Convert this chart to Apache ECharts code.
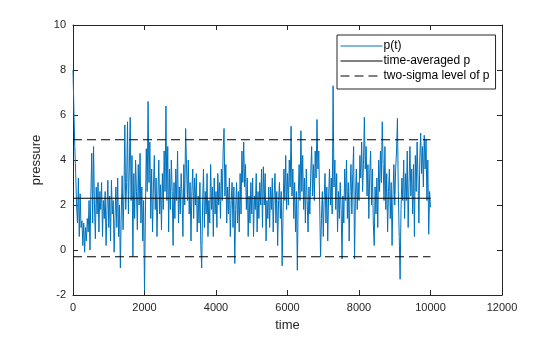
<!DOCTYPE html>
<html>
<head>
<meta charset="utf-8">
<script src="https://cdn.jsdelivr.net/npm/echarts@6/dist/echarts.min.js"></script>
<style>
html,body{margin:0;padding:0;background:#fff;}
#chart{width:560px;height:337px;}
</style>
</head>
<body>
<div id="chart"></div>
<script>
// sampling step of the pressure record
const timeStep = 25;
// p(t) samples, t = 0, 25, 50, ... 10000
const pressure = [
  8.0, 6.2, 4.6, 3.4, 2.0, 1.2, 3.2, 0.6, 2.5, 1.0, 1.3, 0.2, 1.2, -0.1, 1.0, 0.4, 1.4, 0.8, 2.2, 0.0,
  2.5, 4.3, 1.2, 4.6, 2.0, 0.5, 2.8, 1.6, 3.0, 0.8, 2.6, 1.8, 3.0, 0.6, 2.2, 1.4, 2.6, 0.2, 1.8, 3.1,
  1.0, 2.4, 0.4, 3.1, 1.6, 2.2, -0.1, 1.4, 2.8, 1.0, 3.2, 0.6, 2.0, -0.8, 1.6, 3.3, 0.9, 2.4, 5.56, 1.8,
  3.0, 5.7, 1.6, 3.6, 5.9, 2.2, 4.2, -0.3, 3.4, 1.4, 4.0, 2.6, 0.9, 3.8, 2.0, 4.3, 1.2, 2.8, 0.4, 2.2,
  -1.8, 1.6, 4.5, 2.6, 6.6, 3.0, 4.8, 1.4, 3.6, 0.8, 2.8, 4.2, 1.8, 3.2, 0.6, 2.4, 4.0, 1.6, 2.9, 0.9,
  3.4, 1.8, 4.4, 2.6, 6.4, 2.2, 4.6, 0.8, 3.6, 1.8, 4.0, 2.6, 0.2, 3.0, 1.4, 3.6, 2.2, 4.4, 1.2, 2.8,
  1.6, 3.4, 2.4, 0.6, 3.8, 2.0, 5.4, 3.8, 2.2, 4.0, 1.6, 3.0, 0.4, 2.6, 3.6, 1.4, 3.2, 2.0, 3.4, 0.8,
  2.4, 1.2, 3.0, 0.2, -0.8, 2.0, 3.6, 1.0, 2.6, 1.6, 3.4, 0.6, 2.2, 1.2, 3.8, 1.8, 2.8, 0.6, 3.2, 1.6,
  2.6, 1.0, 3.4, 2.0, 3.0, 1.4, 3.6, 2.2, 4.4, 5.4, 2.4, 3.8, 1.2, 2.8, 1.6, 3.2, 0.6, 2.2, 3.0, 1.0,
  2.8, -0.6, 1.8, 3.0, 1.2, 2.6, 0.8, 3.4, 1.6, 4.4, 3.0, 4.8, 2.8, 3.8, 1.8, 3.2, 0.6, 2.4, 1.2, 3.0,
  1.6, 3.2, 0.6, 2.4, 1.8, 3.4, 0.8, 2.6, 1.4, 3.0, 2.0, 3.6, 1.0, 3.7, 2.0, 3.4, 0.4, 2.2, 1.4, 2.8,
  1.0, 2.8, 1.8, 3.2, 0.8, 2.4, 3.4, 1.2, 2.6, 0.2, 2.2, 3.0, 1.4, 2.6, -0.7, 1.6, 3.6, 2.2, 4.2, 1.8,
  3.4, 2.0, 4.0, 2.8, 5.5, 2.4, 3.6, 1.4, 3.0, 0.8, 2.6, -0.9, 2.4, 3.8, 2.2, 5.3, 2.6, 4.2, 1.8, 3.2,
  1.2, 3.6, 2.2, 0.8, 2.8, 1.6, 3.4, 4.6, 2.4, 3.8, 2.2, 4.4, 3.2, 5.8, 3.6, 4.4, 2.0, -0.3, 1.4, 2.6,
  0.6, 2.2, 3.4, 1.2, 2.8, 0.4, 2.4, 3.6, 2.0, 3.2, 1.6, 7.3, 2.8, 4.0, 1.8, 3.4, 0.8, 2.6, 1.4, 3.0,
  1.8, -0.4, 2.4, 1.2, 3.6, 2.2, 4.0, 1.4, 3.0, 0.4, 2.6, 3.8, 1.6, 3.4, 4.6, -0.4, 2.4, 3.6, 1.8, 3.0,
  2.2, 4.2, 3.2, 4.8, 2.6, 3.8, 5.9, 3.6, 4.6, 2.4, 3.8, 1.4, 3.4, 4.4, 2.0, 3.6, 1.2, 0.2, 2.8, 1.6,
  3.2, 1.0, 4.0, 2.6, 4.4, 3.0, 5.7, 3.8, 2.2, 4.6, 1.8, 3.4, 0.8, 2.6, 3.6, 1.4, 3.0, 0.2, 2.4, 3.8,
  2.0, 3.6, 4.4, 5.85, 2.6, 0.6, -1.3, 1.8, 3.2, 2.2, 4.0, 1.4, 3.4, 2.2, 4.4, 1.0, 3.0, 4.6, 2.4, 3.6,
  1.6, 3.8, 0.6, 4.2, 2.6, 4.8, 3.2, 1.2, 4.0, 5.2, 3.4, 4.6, 2.8, 5.1, 3.6, 4.9, 2.2, 4.0, 0.7, 2.6,
  1.9
];
// time-averaged pressure and its two-sigma band
const meanLevel = 2.3;
const sigmaLevels = [4.9, -0.3];
const timeSpan = [0, 10000];
const seriesNames = ['p(t)', 'time-averaged p', 'two-sigma level of p'];
const xTicks = [0, 2000, 4000, 6000, 8000, 10000, 12000];
const yTicks = [-2, 0, 2, 4, 6, 8, 10];

const pData = pressure.map((v, i) => [i * timeStep, v]);
const meanData = timeSpan.map(t => [t, meanLevel]);
const sigmaUp = timeSpan.map(t => [t, sigmaLevels[0]]);
const sigmaDown = timeSpan.map(t => [t, sigmaLevels[1]]);

const ink = '#262626';
const font = 'Liberation Sans, Arial, sans-serif';
const plain = v => String(v);

const chart = echarts.init(document.getElementById('chart'), null, {renderer: 'canvas'});

const boxAxis = {
  axisLine: {show: true, onZero: false, lineStyle: {color: ink, width: 1}},
  axisTick: {show: true, inside: true, length: 5, lineStyle: {color: ink}},
  splitLine: {show: false}
};

chart.setOption({
  animation: false,
  backgroundColor: '#fff',
  grid: {left: 73, right: 58, top: 25, bottom: 39, containLabel: false},
  legend: {
    orient: 'vertical',
    left: 337, top: 35,
    data: seriesNames,
    itemWidth: 42, itemHeight: 12, itemGap: 3,
    padding: [5, 6, 7, 3],
    borderColor: ink, borderWidth: 1,
    backgroundColor: '#fff',
    itemStyle: {opacity: 0},
    lineStyle: {width: 1},
    textStyle: {color: '#000', fontSize: 12, fontFamily: font, padding: [0, 0, 0, -4]}
  },
  xAxis: [
    Object.assign({
      type: 'value', min: xTicks[0], max: xTicks[xTicks.length - 1], interval: 2000,
      name: 'time', nameLocation: 'middle', nameGap: 24,
      nameTextStyle: {color: ink, fontSize: 13, fontFamily: font},
      axisLabel: {color: ink, fontSize: 11, fontFamily: font, margin: 7, formatter: plain}
    }, boxAxis),
    Object.assign({
      type: 'value', position: 'top', min: xTicks[0], max: xTicks[xTicks.length - 1], interval: 2000,
      axisLabel: {show: false}
    }, boxAxis)
  ],
  yAxis: [
    Object.assign({
      type: 'value', min: yTicks[0], max: yTicks[yTicks.length - 1], interval: 2,
      name: 'pressure', nameLocation: 'middle', nameGap: 30, nameRotate: 90,
      nameTextStyle: {color: ink, fontSize: 13, fontFamily: font},
      axisLabel: {color: ink, fontSize: 11, fontFamily: font, margin: 7, formatter: plain}
    }, boxAxis),
    Object.assign({
      type: 'value', position: 'right', min: yTicks[0], max: yTicks[yTicks.length - 1], interval: 2,
      axisLabel: {show: false}
    }, boxAxis)
  ],
  series: [
    {
      name: seriesNames[0], type: 'line', data: pData, symbol: 'none',
      lineStyle: {color: '#0072BD', width: 1}, itemStyle: {color: '#0072BD'}, z: 2
    },
    {
      name: seriesNames[1], type: 'line', data: meanData, symbol: 'none',
      lineStyle: {color: '#000', width: 1.2}, itemStyle: {color: '#000'}, z: 3
    },
    {
      name: seriesNames[2], type: 'line', data: sigmaUp, symbol: 'none',
      lineStyle: {color: '#000', width: 1.2, type: [9, 5]}, itemStyle: {color: '#000'}, z: 3
    },
    {
      name: seriesNames[2], type: 'line', data: sigmaDown, symbol: 'none',
      lineStyle: {color: '#000', width: 1.2, type: [9, 5]}, itemStyle: {color: '#000'}, z: 3
    }
  ]
});
</script>
</body>
</html>
